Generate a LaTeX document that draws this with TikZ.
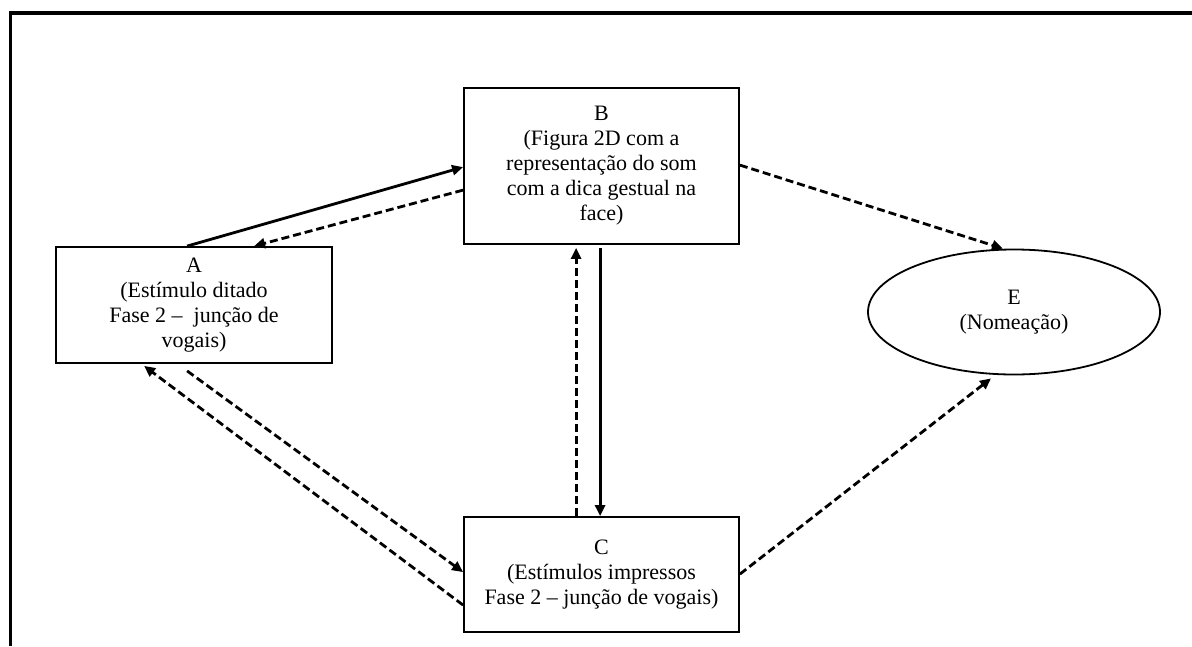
\documentclass[tikz,border=0pt]{standalone}
\usepackage{fontspec}
\setmainfont{Liberation Serif}
\usetikzlibrary{shapes.geometric,arrows.meta,calc}
\tikzset{
  boxnode/.style={draw, line width=1.8pt, minimum width=275pt, inner sep=0pt, align=center,
    font=\fontsize{22}{25}\selectfont},
  ellnode/.style={draw, ellipse, line width=1.8pt, minimum width=292pt, minimum height=125pt,
    inner sep=0pt, align=center, font=\fontsize{22}{25}\selectfont},
  tip/.style={-{Triangle[length=11pt,width=10pt]}},
  solidarrow/.style={tip, line width=2.8pt},
  dasharrow/.style={tip, line width=2.8pt, dash pattern=on 8pt off 4pt},
  frameline/.style={line width=3.8pt}
}
\begin{document}
\begin{tikzpicture}[x=1pt,y=-1pt]
\useasboundingbox (0,0) rectangle (1192,646);
% frame
\coordinate (f1) at (10.5,646);
\coordinate (f2) at (10.5,13);
\coordinate (f3) at (1192,13);
\draw[frameline] (f1) -- (f2) -- (f3);
% nodes
\node[boxnode, minimum height=156pt] (B) at (601.5,166) {B\\(Figura 2D com a\\representação do som\\com a dica gestual na\\face)};
\node[boxnode, minimum width=276pt, minimum height=116pt] (A) at (194,305) {A\\(Estímulo ditado\\Fase 2 –~ junção de\\vogais)};
\node[boxnode, minimum height=115pt] (C) at (601.5,574.5) {C\\(Estímulos impressos\\Fase 2 – junção de vogais)};
\node[ellnode] (E) at (1014,312) {E\\(Nomeação)};
% connectors
\draw[solidarrow] ($(A.north west)+(132,0)$) -- ($(B.north west)+(0,80)$);
\draw[dasharrow] ($(B.north west)+(0,103)$) -- ($(A.north west)+(199,0)$);
\draw[solidarrow] ($(B.south west)+(137,3)$) -- ($(C.north west)+(137,0)$);
\draw[dasharrow] ($(C.north west)+(113,0)$) -- ($(B.south west)+(113,3)$);
\draw[dasharrow] ($(A.south west)+(132,7)$) -- ($(C.north west)+(0,56)$);
\draw[dasharrow] ($(C.north west)+(0,89)$) -- ($(A.south west)+(89,2)$);
\draw[dasharrow] ($(B.north east)+(0,78)$) -- ($(E.north)+(-11,0)$);
\draw[dasharrow] ($(C.north east)+(0,58)$) -- ($(E.south)+(-23,3)$);
\end{tikzpicture}
\end{document}
